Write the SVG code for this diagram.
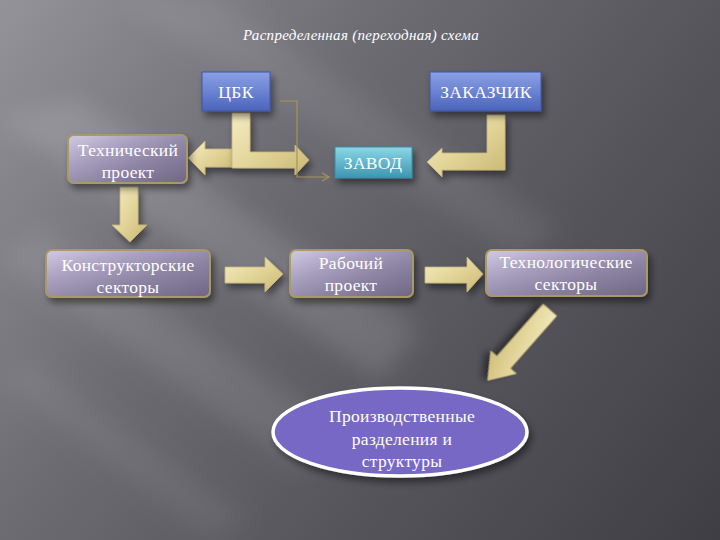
<svg xmlns="http://www.w3.org/2000/svg" width="720" height="540" viewBox="0 0 720 540">
<defs>
<linearGradient id="bg" x1="0" y1="0" x2="720" y2="540" gradientUnits="userSpaceOnUse">
<stop offset="0" stop-color="#94939a"/>
<stop offset="0.35" stop-color="#6d6c73"/>
<stop offset="0.65" stop-color="#56555c"/>
<stop offset="1" stop-color="#3e3e44"/>
</linearGradient>
<linearGradient id="gold" x1="0" y1="0" x2="1" y2="1">
<stop offset="0" stop-color="#f4ecc4"/>
<stop offset="0.5" stop-color="#e3d599"/>
<stop offset="1" stop-color="#c9b874"/>
</linearGradient>
<linearGradient id="purple" x1="0" y1="0" x2="1" y2="1">
<stop offset="0" stop-color="#d2cae4"/>
<stop offset="0.35" stop-color="#a79dbd"/>
<stop offset="0.6" stop-color="#8e84a4"/>
<stop offset="1" stop-color="#6f6684"/>
</linearGradient>
<linearGradient id="blue" x1="0" y1="0" x2="0" y2="1">
<stop offset="0" stop-color="#8aa0e2"/>
<stop offset="0.5" stop-color="#6b83d2"/>
<stop offset="1" stop-color="#4b64ba"/>
</linearGradient>
<linearGradient id="teal" x1="0" y1="0" x2="0" y2="1">
<stop offset="0" stop-color="#8ed6e6"/>
<stop offset="0.5" stop-color="#62b7cc"/>
<stop offset="1" stop-color="#3d95b0"/>
</linearGradient>
<filter id="shadow" x="-20%" y="-20%" width="150%" height="160%">
<feDropShadow dx="3" dy="5" stdDeviation="3.5" flood-color="#000" flood-opacity="0.45"/>
</filter>
<filter id="blur" x="-20%" y="-20%" width="140%" height="140%">
<feGaussianBlur stdDeviation="12"/>
</filter>
<marker id="open" markerWidth="10" markerHeight="10" refX="8" refY="5" orient="auto" markerUnits="userSpaceOnUse">
<path d="M1,1 L8,5 L1,9" fill="none" stroke="#a3945c" stroke-width="1.2"/>
</marker>
<style>
.t{font-family:"Liberation Serif","DejaVu Serif",serif;fill:#ffffff;text-anchor:middle}
.lab{font-size:17.5px;letter-spacing:0.3px}
.box{fill:url(#purple);stroke:#a89a62;stroke-width:2;filter:url(#shadow)}
.arrow{fill:url(#gold);stroke:#c4b477;stroke-width:0.8;filter:url(#shadow)}
.thin{fill:none;stroke:#a3945c;stroke-width:1.2}
</style>
</defs>

<rect width="720" height="540" fill="url(#bg)"/>
<g filter="url(#blur)" fill="#ffffff">
<polygon points="0,120 80,100 420,330 380,380" opacity="0.12"/>
<polygon points="0,260 40,230 330,420 300,470" opacity="0.09"/>
<polygon points="120,0 220,0 560,230 520,260" opacity="0.07"/>
<polygon points="0,380 30,360 250,520 210,540" opacity="0.06"/>
</g>

<text class="t" x="361" y="40" font-size="15" font-style="italic" letter-spacing="0.3">Распределенная (переходная) схема</text>

<g id="connectors">
<path class="arrow" d="M232,149 L205,149 L205,141 L188,158 L205,175 L205,167 L232,167 Z"/>
<path class="arrow" d="M232,113 L250,113 L250,152 L295,152 L295,145 L309,160 L295,175 L295,168 L232,168 Z"/>
<path class="arrow" d="M487,115 L505,115 L505,170 L442,170 L442,177 L427,162 L442,148 L442,153 L487,153 Z"/>
<path class="arrow" d="M120,187 L138,187 L138,225 L147,225 L130,242 L112,225 L120,225 Z"/>
<path class="arrow" d="M225,267 L265,267 L265,257 L283,274 L265,292 L265,283 L225,283 Z"/>
<path class="arrow" d="M425,267 L467,267 L467,257 L483,274 L467,292 L467,283 L425,283 Z"/>
<path class="arrow" transform="translate(550,310) rotate(131.5)" d="M0,-9 L70,-9 L70,-17 L94,0 L70,17 L70,9 L0,9 Z"/>
<path class="thin" d="M280,101 L297,101 L297,177 L329,177" marker-end="url(#open)"/>
</g>

<g id="cbk">
<rect x="202" y="72" width="68" height="39" fill="url(#blue)" stroke="#3e56a4" stroke-width="1" filter="url(#shadow)"/>
<text class="t lab" x="236" y="98">ЦБК</text>
</g>
<g id="zakazchik">
<rect x="430" y="72" width="111" height="39" fill="url(#blue)" stroke="#3e56a4" stroke-width="1" filter="url(#shadow)"/>
<text class="t lab" x="486" y="98">ЗАКАЗЧИК</text>
</g>
<g id="zavod">
<rect x="335" y="147" width="77" height="31" fill="url(#teal)" stroke="#3a8aa2" stroke-width="1" filter="url(#shadow)"/>
<text class="t lab" x="373" y="169">ЗАВОД</text>
</g>
<g id="tech-project">
<rect class="box" x="68" y="135" width="119" height="48" rx="6"/>
<text class="t lab" x="128" y="156">Технический</text>
<text class="t lab" x="128" y="178">проект</text>
</g>
<g id="konstr">
<rect class="box" x="46" y="250" width="164" height="47" rx="6"/>
<text class="t lab" x="128" y="271">Конструкторские</text>
<text class="t lab" x="128" y="293">секторы</text>
</g>
<g id="rabochiy">
<rect class="box" x="290" y="250" width="123" height="47" rx="6"/>
<text class="t lab" x="351" y="269">Рабочий</text>
<text class="t lab" x="351" y="291">проект</text>
</g>
<g id="technol">
<rect class="box" x="486" y="250" width="161" height="46" rx="6"/>
<text class="t lab" x="566" y="268">Технологические</text>
<text class="t lab" x="566" y="290">секторы</text>
</g>
<g id="proizv">
<ellipse cx="400" cy="432" rx="127" ry="44" fill="#7767c6" stroke="#ffffff" stroke-width="3.5" filter="url(#shadow)"/>
<text class="t lab" x="402" y="422">Производственные</text>
<text class="t lab" x="402" y="445">разделения и</text>
<text class="t lab" x="402" y="467">структуры</text>
</g>
</svg>
